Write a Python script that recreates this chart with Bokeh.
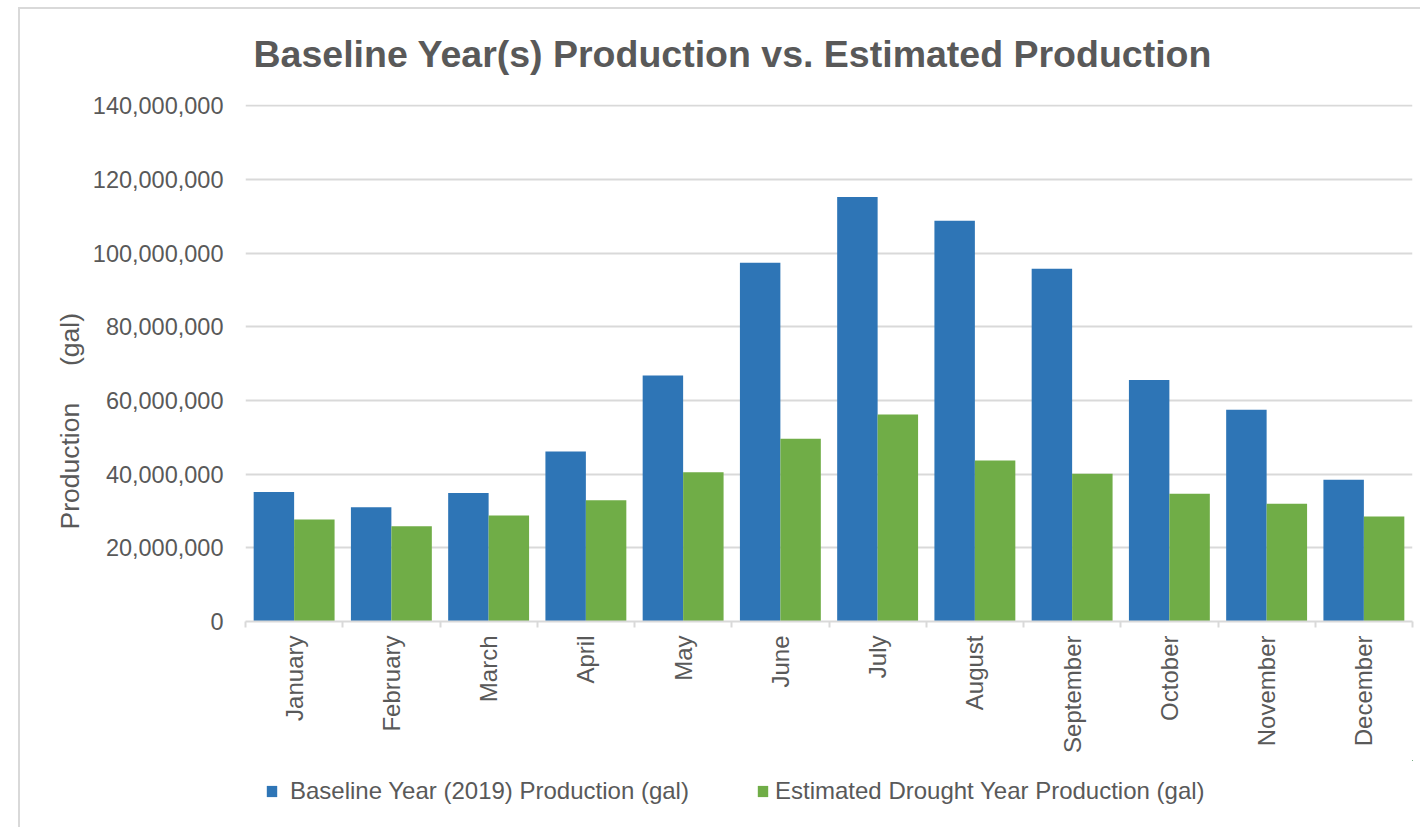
import math
import numpy as np
from bokeh.plotting import figure
from bokeh.layouts import column
from bokeh.models import (Range1d, FixedTicker, NumeralTickFormatter, Title,
                          Legend, LegendItem, ColumnDataSource, InlineStyleSheet)
from bokeh.embed import file_html
from bokeh.resources import INLINE

# Monthly production in gallons
months = ["January", "February", "March", "April", "May", "June", "July",
          "August", "September", "October", "November", "December"]
baseline_2019 = [35_200_000, 31_000_000, 34_900_000, 46_200_000, 66_800_000,
                 97_400_000, 115_300_000, 108_800_000, 95_800_000, 65_600_000,
                 57_500_000, 38_500_000]
drought_estimate = [27_700_000, 25_900_000, 28_800_000, 32_900_000, 40_500_000,
                    49_600_000, 56_200_000, 43_700_000, 40_100_000, 34_700_000,
                    32_000_000, 28_500_000]
y_ticks = [0, 20_000_000, 40_000_000, 60_000_000, 80_000_000, 100_000_000,
           120_000_000, 140_000_000]

series_names = ["Baseline Year (2019) Production (gal)",
                "Estimated Drought Year Production (gal)"]
colors = ["#2E75B6", "#70AD47"]
text_gray = "#595959"
line_gray = "#d9d9d9"
FONT = "Liberation Sans"

BAR_W = 0.416
centers = np.arange(len(months)) + 0.5
src = ColumnDataSource(dict(
    month=months,
    x_base=centers - BAR_W / 2,
    x_drought=centers + BAR_W / 2,
    baseline=baseline_2019,
    drought=drought_estimate,
))

# ---------------- main chart ----------------
p = figure(width=1420, height=760, output_backend="svg", toolbar_location=None,
           x_range=Range1d(0, len(months)), y_range=Range1d(0, 140_400_000),
           min_border_left=245, min_border_right=8, min_border_top=102,
           min_border_bottom=139)
p.outline_line_color = None
p.background_fill_color = "white"
p.border_fill_color = None

p.title.text = "Baseline Year(s) Production vs. Estimated Production"
p.title.align = "left"
p.title.offset = 8
p.title.standoff = 60
p.title.text_font = FONT
p.title.text_font_size = "37.5px"
p.title.text_font_style = "bold"
p.title.text_color = text_gray

r_base = p.vbar(x="x_base", top="baseline", width=BAR_W, source=src,
                fill_color=colors[0], line_color=None)
r_drought = p.vbar(x="x_drought", top="drought", width=BAR_W, source=src,
                   fill_color=colors[1], line_color=None)

# category axis: month names at centers, small ticks at the boundaries
xa = p.xaxis[0]
xa.ticker = FixedTicker(ticks=list(centers), minor_ticks=list(range(len(months) + 1)))
xa.major_label_overrides = {float(c): m for c, m in zip(centers, months)}
xa.major_label_orientation = math.pi / 2
xa.major_tick_out = 0
xa.major_tick_in = 0
xa.minor_tick_out = 6
xa.minor_tick_in = 0
xa.minor_tick_line_color = line_gray
xa.minor_tick_line_width = 2
xa.axis_line_color = line_gray
xa.axis_line_width = 2
xa.major_label_standoff = 8
xa.major_label_text_font = FONT
xa.major_label_text_font_size = "24px"
xa.major_label_text_color = text_gray

ya = p.yaxis[0]
ya.ticker = FixedTicker(ticks=y_ticks)
ya.formatter = NumeralTickFormatter(format="0,0")
ya.axis_line_color = None
ya.major_tick_out = 0
ya.major_tick_in = 0
ya.minor_tick_out = 0
ya.minor_tick_in = 0
ya.major_label_standoff = 22
ya.major_label_text_font = FONT
ya.major_label_text_font_size = "23.5px"
ya.major_label_text_color = text_gray

p.xgrid.visible = False
p.ygrid.grid_line_color = line_gray
p.ygrid.grid_line_width = 2

# vertical axis title
p.add_layout(Title(text="Production\u00a0\u00a0\u00a0\u00a0\u00a0(gal)",
                   align="left", offset=92, standoff=10,
                   text_font=FONT, text_font_size="26.5px",
                   text_font_style="normal", text_color=text_gray), "left")

# ---------------- legend strip ----------------
# the legend swatches come from the same bar series; the strip's ranges lie
# away from the data so that only the legend itself shows
leg_fig = figure(width=1420, height=67, output_backend="svg", toolbar_location=None,
                 x_range=Range1d(-100, -88), y_range=Range1d(-2, -1),
                 x_axis_type=None, y_axis_type=None, min_border=0)
leg_fig.outline_line_color = None
leg_fig.grid.visible = False
leg_fig.background_fill_color = None
leg_fig.border_fill_color = None
lr_base = leg_fig.vbar(x="x_base", top="baseline", width=BAR_W, source=src,
                       fill_color=colors[0], line_color=None)
lr_drought = leg_fig.vbar(x="x_drought", top="drought", width=BAR_W, source=src,
                          fill_color=colors[1], line_color=None)

for name, rend, loc, standoff in [(series_names[0], lr_base, (20, 22), 12),
                                  (series_names[1], lr_drought, (511, 22), 6)]:
    leg_fig.add_layout(Legend(items=[LegendItem(label=name, renderers=[rend])],
                              location=loc, padding=0, margin=0,
                              border_line_color=None, background_fill_alpha=0,
                              glyph_width=13, glyph_height=14,
                              label_standoff=standoff, label_text_font=FONT,
                              label_text_font_size="24px",
                              label_text_color=text_gray))

layout = column(p, leg_fig, spacing=0)
# light frame line along the top and left edges of the chart area
layout.stylesheets = [InlineStyleSheet(css="""
:host { position: relative; background: white; }
:host::after {
  content: ""; position: absolute; left: 18px; top: 7px;
  width: 1402px; height: 820px; box-sizing: border-box;
  border-left: 2px solid #d9d9d9; border-top: 2px solid #d9d9d9;
  pointer-events: none;
}
""")]

open("out.html", "w").write(file_html(layout, INLINE))
